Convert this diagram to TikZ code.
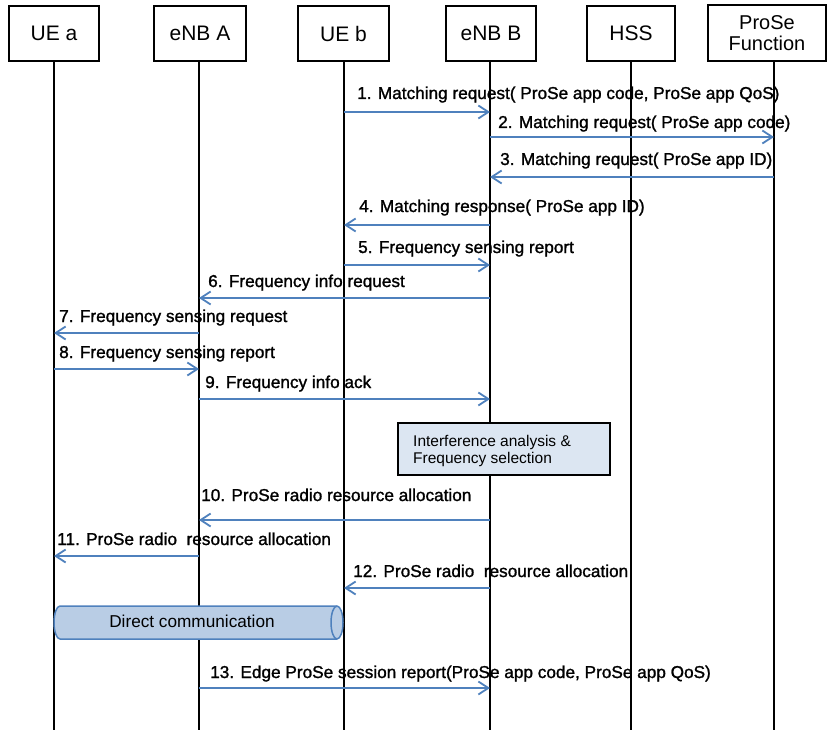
\documentclass[tikz,border=0pt]{standalone}
\usepackage{fontspec}
\setmainfont{Liberation Sans}
\newfontfamily\lblfont[FakeBold=1.3]{Liberation Sans}
\usetikzlibrary{arrows.meta}
\definecolor{msgblue}{HTML}{4F81BD}
\definecolor{boxfill}{HTML}{DCE6F2}
\definecolor{cylfill}{HTML}{B9CDE5}
\tikzset{
  hdr/.style={draw=black, line width=1.8pt, fill=white, minimum height=55pt, inner sep=0pt, align=center, font=\fontsize{21}{22}\selectfont},
  life/.style={draw=black, line width=1.8pt},
  msg/.style={draw=msgblue, line width=1.8pt, -{Straight Barb[length=10pt,width=13pt]}},
  lbl/.style={anchor=base west, inner sep=0pt, font=\lblfont\fontsize{17.2}{19}\selectfont},
  notebox/.style={draw=black, line width=1.5pt, fill=boxfill, minimum width=212pt, minimum height=52pt, inner sep=0pt},
  notetext/.style={anchor=west, inner sep=0pt, align=left, font=\fontsize{15.5}{16.5}\selectfont},
  cyl/.style={draw=msgblue, line width=1.5pt, fill=cylfill}
}
\begin{document}
\begin{tikzpicture}[x=1pt, y=-1pt]
\useasboundingbox (0,0) rectangle (832,730);
\fill[white] (0,0) rectangle (832,730);
% lifeline tops
\coordinate (La) at (54,61);
\coordinate (LA) at (199,61);
\coordinate (Lb) at (344,61);
\coordinate (LB) at (490,61);
\coordinate (LH) at (631,61);
\coordinate (LP) at (774,61);
\foreach \c in {La,LA,Lb,LB,LH,LP} \draw[life] (\c) -- (\c |- 0,730);
% headers
\node[hdr, minimum width=90pt] (uea) at (54,33.5) {UE a};
\node[hdr, minimum width=92pt] (enba) at (200,33.5) {eNB A};
\node[hdr, minimum width=91pt] (ueb) at (343.5,33.5) {UE b};
\node[hdr, minimum width=90pt] (enbb) at (491,33.5) {eNB B};
\node[hdr, minimum width=88pt] (hss) at (631,33.5) {HSS};
\node[hdr, minimum width=118pt, minimum height=56pt, font=\fontsize{20}{21}\selectfont] (psf) at (767,33) {ProSe\\Function};
% messages
\draw[msg] (Lb |- 0,112) -- (LB |- 0,112);
\node[lbl] (t1) at (357,99) {1. Matching request( ProSe app code, ProSe app QoS)};
\draw[msg] (LB |- 0,137) -- (LP |- 0,137);
\node[lbl] (t2) at (498,128) {2. Matching request( ProSe app code)};
\draw[msg] (LP |- 0,177) -- (LB |- 0,177);
\node[lbl] (t3) at (500,165) {3. Matching request( ProSe app ID)};
\draw[msg] (LB |- 0,225) -- (Lb |- 0,225);
\node[lbl] (t4) at (359,212) {4. Matching response( ProSe app ID)};
\draw[msg] (Lb |- 0,265) -- (LB |- 0,265);
\node[lbl] (t5) at (358,253) {5. Frequency sensing report};
\draw[msg] (LB |- 0,298) -- (LA |- 0,298);
\node[lbl] (t6) at (208,287) {6. Frequency info request};
\draw[msg] (LA |- 0,333) -- (La |- 0,333);
\node[lbl] (t7) at (59,322) {7. Frequency sensing request};
\draw[msg] (La |- 0,369) -- (LA |- 0,369);
\node[lbl] (t8) at (59,358) {8. Frequency sensing report};
\draw[msg] (LA |- 0,399) -- (LB |- 0,399);
\node[lbl] (t9) at (205,388) {9. Frequency info ack};
% analysis box
\node[notebox] (ana) at (504,449) {};
\node[notetext] (anat) at (413,451) {Interference analysis \&\\Frequency selection};
\draw[msg] (LB |- 0,520) -- (LA |- 0,520);
\node[lbl] (t10) at (201,501) {10. ProSe radio resource allocation};
\draw[msg] (LA |- 0,556) -- (La |- 0,556);
\node[lbl] (t11) at (57,545) {11. ProSe radio\ \ resource allocation};
\draw[msg] (LB |- 0,588) -- (Lb |- 0,588);
\node[lbl] (t12) at (353,577) {12. ProSe radio\ \ resource allocation};
% direct communication cylinder
\path[cyl] (60,606) -- (337,606) arc[start angle=90, end angle=-90, x radius=6pt, y radius=16.5pt] -- (60,639) arc[start angle=-90, end angle=-270, x radius=6pt, y radius=16.5pt] -- cycle;
\draw[draw=msgblue, line width=1.5pt] (337,606) arc[start angle=90, end angle=270, x radius=6pt, y radius=16.5pt];
\node[font=\fontsize{17.2}{19}\selectfont, inner sep=0pt] (dc) at (192,621) {Direct communication};
\draw[msg] (LA |- 0,688) -- (LB |- 0,688);
\node[lbl] (t13) at (210,678) {13. Edge ProSe session report(ProSe app code, ProSe app QoS)};
\end{tikzpicture}
\end{document}
